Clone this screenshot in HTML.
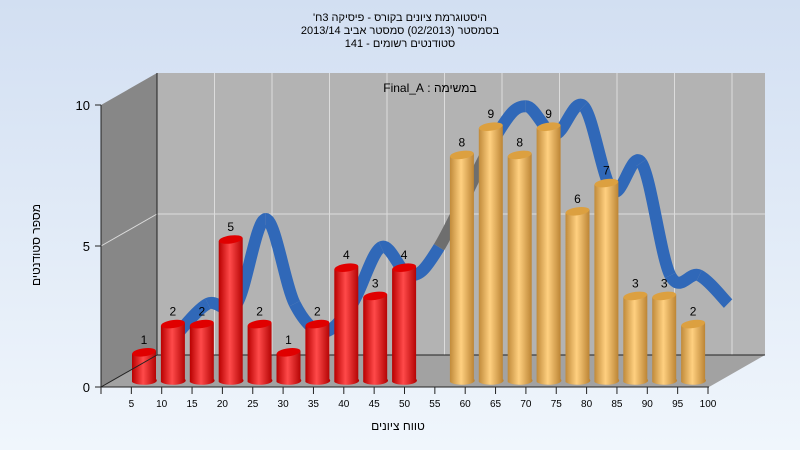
<!DOCTYPE html>
<html><head><meta charset="utf-8"><style>
body{margin:0;width:800px;height:450px;overflow:hidden;font-family:"Liberation Sans",sans-serif}
svg text{font-family:"Liberation Sans","Noto Sans CJK JP",sans-serif}
</style></head><body>
<svg id="chart" width="800" height="450">
<defs>
<linearGradient id="bg" x1="0" y1="0" x2="0" y2="1"><stop offset="0" stop-color="#d2dff2"/><stop offset="1" stop-color="#f0f6fc"/></linearGradient>
<linearGradient id="red" x1="0" y1="0" x2="1" y2="0"><stop offset="0" stop-color="#b80000"/><stop offset="0.45" stop-color="#ff4a4a"/><stop offset="1" stop-color="#b00000"/></linearGradient>
<linearGradient id="org" x1="0" y1="0" x2="1" y2="0"><stop offset="0" stop-color="#c08a3a"/><stop offset="0.45" stop-color="#ffd080"/><stop offset="1" stop-color="#b88030"/></linearGradient>
</defs>
<rect width="800" height="450" fill="url(#bg)"/>
<g font-size="11" text-anchor="middle" fill="#000" direction="rtl">
<text x="400" y="21">היסטוגרמת ציונים בקורס - פיסיקה 3ח'</text>
<text x="400" y="34">בסמסטר  (02/2013)  סמסטר אביב 2013/14</text>
<text x="400" y="47">סטודנטים רשומים - 141</text>
</g>
<polygon points="101,105 157,73 157,355 101,387" fill="#878787"/>
<rect x="157" y="73" width="608" height="282" fill="#b3b3b3"/>
<polygon points="101,387 157,355 765,355 709,387" fill="#a2a2a2"/>
<g id="grid" stroke="#dcdcdc" stroke-width="1"></g>
<line x1="157" y1="355" x2="765" y2="355" stroke="#222"/>
<line x1="157" y1="73" x2="157" y2="355" stroke="#222"/>
<text x="430" y="92" font-size="12" text-anchor="middle" direction="rtl">במשימה : Final_A</text>
<g id="ribbon"></g>
<g id="bars"></g>
<line x1="101" y1="105" x2="101" y2="387" stroke="#222"/>
<line x1="101" y1="387" x2="709" y2="387" stroke="#222"/>
<line x1="101" y1="387" x2="157" y2="355" stroke="#222"/>
<g id="axes" font-size="10"></g>
<text x="40" y="245" font-size="12" text-anchor="middle" direction="rtl" transform="rotate(-90 40 245)">מספר סטודנטים</text>
<text x="398" y="430" font-size="12" text-anchor="middle" direction="rtl">טווח ציונים</text>
</svg>
<script>
const categories=[5,10,15,20,25,30,35,40,45,50,55,60,65,70,75,80,85,90,95,100];
const counts=[1,2,2,5,2,1,2,4,3,4,0,8,9,8,9,6,7,3,3,2];
const yTicks=[0,5,10];
const NS="http://www.w3.org/2000/svg";
function mk(t,a,p){const e=document.createElementNS(NS,t);for(const k in a)e.setAttribute(k,a[k]);p.appendChild(e);return e;}
const barX=i=>144+28.9*i;
const barY=v=>382-28.2*v;
const frontY=v=>387-28.2*v;
const backY=v=>355-28.2*v;
const grid=document.getElementById('grid');
for(let k=1;k<=10;k++){const x=157+57.5*k;const l=mk('line',{x1:x,y1:73,x2:x,y2:355},grid);

}
yTicks.forEach(t=>{if(t>0&&t<10){const l=mk('line',{x1:157,y1:backY(t),x2:765,y2:backY(t)},grid);


const l2=mk('line',{x1:101,y1:frontY(t),x2:157,y2:backY(t)},grid);

}});
const axes=document.getElementById('axes');
yTicks.forEach(t=>{const y=frontY(t);mk('line',{x1:95,y1:y,x2:101,y2:y,stroke:'#222'},axes);
const tx=mk('text',{x:90,y:y+5,'text-anchor':'end','font-size':13},axes);tx.textContent=t;

});
for(let k=0;k<=20;k++){const x=101+30.35*k;mk('line',{x1:x,y1:387,x2:x,y2:394,stroke:'#222'},axes);}
categories.forEach((c,i)=>{const tx=mk('text',{x:101+30.35*(i+1),y:407,'text-anchor':'middle'},axes);tx.textContent=c;

});
// ribbon (skips empty categories)
const idx=counts.map((v,i)=>i).filter(i=>counts[i]>0);
const pts=idx.map(i=>[barX(i)+35,barY(counts[i])-22]);
function seg(a,b,c,d){return `C${b[0]+(c[0]-a[0])/6},${b[1]+(c[1]-a[1])/6} ${c[0]-(d[0]-b[0])/6},${c[1]-(d[1]-b[1])/6} ${c[0]},${c[1]}`;}
const rib=document.getElementById('ribbon');
for(let i=0;i<pts.length-1;i++){const a=pts[Math.max(0,i-1)],b=pts[i],c=pts[i+1],d=pts[Math.min(pts.length-1,i+2)];
const col=(idx[i+1]-idx[i]>1)?'#6e6e6e':'#3068b8';
const p=mk('path',{d:`M${b[0]},${b[1]} `+seg(a,b,c,d),fill:'none',stroke:col,'stroke-width':12,'stroke-linecap':'butt'},rib);

}
// bars
const bars=document.getElementById('bars');
counts.forEach((v,i)=>{if(v<=0)return;const cx=barX(i),w=24,top=barY(v),bot=382;
const g=mk('g',{},bars);


const red=i<10;
mk('path',{d:`M${cx-w/2},${top} L${cx-w/2},${bot} A${w/2},4 0 0 0 ${cx+w/2},${bot-3} L${cx+w/2},${top-3} Z`,fill:red?'url(#red)':'url(#org)'},g);
mk('ellipse',{cx:cx,cy:top-1.5,rx:w/2,ry:4,fill:red?'#e00000':'#dca040',transform:`rotate(-8 ${cx} ${top-1.5})`},g);
const t=mk('text',{x:cx,y:top-10,'text-anchor':'middle','font-size':12},g);t.textContent=v;});
</script>
</body></html>
